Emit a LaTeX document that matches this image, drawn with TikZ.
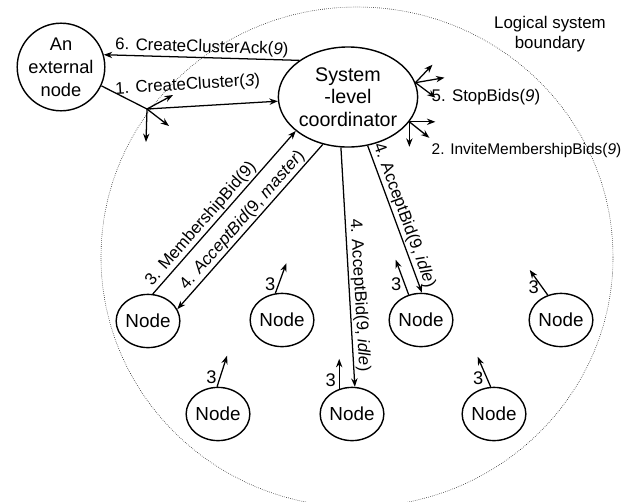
\documentclass[tikz,border=0pt]{standalone}
\usepackage{fontspec}
\setmainfont{Liberation Sans}
\usetikzlibrary{arrows.meta,shapes.geometric}
\tikzset{
  msg/.style={
    -{Stealth[length=6pt,width=4.5pt]},
    line width=0.9pt
  },
  link/.style={
    line width=0.9pt
  },
  lbl/.style={
    inner sep=1pt,
    font=\fontsize{12}{14}\selectfont
  },
  agent/.style={
    shape = ellipse,
    draw,
    line width=1pt,
    inner sep = 0pt,
    minimum width = 1.43cm,
    minimum height = 1.33cm,
    font=\fontsize{13.4}{16}\selectfont
  },
  extagent/.style={
    shape = circle,
    draw,
    line width=1pt,
    inner sep = 0pt,
    minimum size = 2.15cm,
    align=center,
    font=\fontsize{13}{16.4}\selectfont
  },
  coordagent/.style={
    shape = ellipse,
    draw,
    line width=1pt,
    inner sep = 0pt,
    minimum width = 2.75cm,
    minimum height = 2.5cm,
    align=center,
    font=\fontsize{14}{16}\selectfont
  },
  boundary/.style={
    densely dotted,
    line width=0.4pt
  },
  bidcount/.style={
    inner sep=2pt,
    font=\fontsize{13}{15}\selectfont
  }
}

\begin{document}
\begin{tikzpicture}[x=0.025cm,y=-0.025cm]
  \useasboundingbox (0,0) rectangle (635,501);
  \draw[boundary] (357,257) ellipse [x radius=256, y radius=250];
  \node[lbl, align=center, font=\fontsize{12}{14.2}\selectfont] (bndlabel) at (550,34) {Logical system\\boundary};

  \node[extagent] (ext) at (61,67) {An\\external\\node};
  \node[coordagent] (coord) at (348,97) {System\\-level\\coordinator};

  \node[agent] (master) at (148,321) {Node};
  \node[agent] (n2) at (282,320) {Node};
  \node[agent] (n3) at (218,414) {Node};
  \node[agent] (n4) at (352,414) {Node};
  \node[agent] (n5) at (421,320) {Node};
  \node[agent] (n6) at (561,320) {Node};
  \node[agent] (n7) at (494,414) {Node};

  % external node <-> coordinator
  \coordinate (brd) at (147,109);
  \draw[msg] (coord.143) -- node[lbl,sloped,above] {6. CreateClusterAck(\textit{9})} (ext.16);
  \draw[link] (ext.-25) -- (brd);
  \draw[msg] (brd) -- node[lbl,sloped,above=8pt,pos=0.32] {1. CreateCluster(\textit{3})} (coord);
  \draw[msg] (brd) -- ++(26,-14);
  \draw[msg] (brd) -- ++(22,17);
  \draw[msg] (brd) -- ++(-1,33);

  % broadcasts of the coordinator
  \draw[msg] (coord.12) -- ++(17,-18);
  \draw[msg] (coord.12) -- ++(29,-5);
  \draw[msg] (coord.12) -- ++(20,15);
  \draw[msg] (coord.-22) -- ++(26,0);
  \draw[msg] (coord.-22) -- ++(20,16);
  \draw[msg] (coord.-22) -- ++(0,25);
  \node[lbl, anchor=west] (stopbids) at (430,97) {5. StopBids(\textit{9})};
  \node[lbl, anchor=west, font=\fontsize{11}{13}\selectfont] (invite) at (430,150) {2. InviteMembershipBids(\textit{9})};

  % bids and answers
  \draw[msg] (master.80) -- node[lbl,sloped,above,pos=0.39] {3. MembershipBid(9)} (coord.213);
  \draw[msg] (coord.242) -- node[lbl,sloped,above] {4. \textit{AcceptBid}(9, \textit{master})} (master.22);
  \draw[msg] (coord.262) -- node[lbl,sloped,above,pos=0.62] {4. AcceptBid(9, \textit{idle})} (n4.84);
  \draw[msg] (coord.-68) -- node[lbl,sloped,above] {4. AcceptBid(9, \textit{idle})} (n5.88);

  % cluster size seen by every node
  \draw[msg] (n2.104) -- node[bidcount,left,pos=0.3] {3} ++(11,-30);
  \draw[msg] (n3.92) -- node[bidcount,left,pos=0.3] {3} ++(10,-31);
  \draw[msg] (n4.117) -- node[bidcount,left,pos=0.3] {3} ++(0,-30);
  \draw[msg] (n5.116) -- node[bidcount,left,pos=0.3] {3} ++(-13,-35);
  \draw[msg] (n6.118) -- node[bidcount,left,pos=0.3] {3} ++(-18,-25);
  \draw[msg] (n7.97) -- node[bidcount,left,pos=0.3] {3} ++(-13,-30);
\end{tikzpicture}
\end{document}
